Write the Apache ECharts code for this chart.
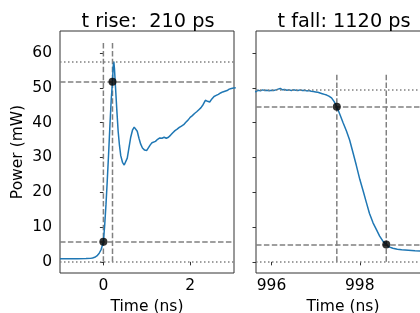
<!DOCTYPE html>
<html>
<head>
<meta charset="utf-8">
<script src="https://cdn.jsdelivr.net/npm/echarts@6/dist/echarts.min.js"></script>
<style>html,body{margin:0;padding:0;background:#fff;}#c{width:420px;height:313px;}</style>
</head>
<body>
<div id="c"></div>
<script>
// ---- data ----
const riseTime = [-1.0,-0.8,-0.6,-0.4,-0.3,-0.25,-0.2,-0.15,-0.1,-0.05,0.0,0.03,0.06,0.09,0.12,0.15,0.18,0.21,0.225,0.24,0.255,0.28,0.31,0.34,0.37,0.40,0.44,0.48,0.51,0.55,0.59,0.63,0.67,0.71,0.74,0.78,0.82,0.86,0.9,0.95,1.0,1.04,1.08,1.12,1.16,1.2,1.25,1.3,1.35,1.4,1.45,1.5,1.55,1.6,1.65,1.7,1.75,1.8,1.85,1.9,1.95,2.0,2.05,2.1,2.15,2.2,2.25,2.3,2.35,2.4,2.45,2.5,2.55,2.6,2.65,2.7,2.75,2.8,2.85,2.9,2.95,3.0,3.05];
const risePower = [0.9,0.9,0.9,0.95,1.0,1.1,1.3,1.7,2.4,3.6,5.75,10.5,16.5,23.5,31,39,46.5,51.75,56,57.5,55.5,50,43.5,37.5,33.5,30.5,28.6,27.8,28,29.8,32.8,35.8,37.8,38.7,38.7,37.5,35.5,33.8,32.7,32.1,32.0,32.4,33.6,34.2,34.0,34.6,35.2,35.6,35.5,35.8,35.5,35.8,36.4,37.1,37.7,38.1,38.6,39.0,39.4,40.1,40.7,41.5,42.0,42.6,43.1,43.7,44.3,45.2,46.4,46.1,45.9,46.8,47.5,47.8,48.1,48.5,48.8,49.0,49.2,49.6,49.8,49.9,50.0];
const fallTime = [995.6,995.65,995.7,995.75,995.8,995.85,995.9,995.95,996.0,996.05,996.1,996.15,996.2,996.25,996.3,996.35,996.4,996.45,996.5,996.55,996.6,996.65,996.7,996.75,996.8,996.85,996.9,996.95,997.0,997.05,997.1,997.15,997.2,997.25,997.3,997.36,997.42,997.48,997.55,997.62,997.7,997.77,997.85,997.92,998.0,998.08,998.15,998.22,998.3,998.38,998.45,998.52,998.6,998.66,998.75,998.85,998.95,999.1,999.25,999.4,999.6];
const fallPower = [48.8,48.9,49.3,49.1,49.4,49.2,49.3,49.1,49.3,49.2,49.4,49.6,49.8,49.4,49.5,49.3,49.4,49.2,49.4,49.3,49.2,49.4,49.2,49.3,49.1,49.2,49.0,48.9,48.8,48.7,48.5,48.3,48.1,47.9,47.6,47.1,46.0,44.55,42.3,40.0,37.5,35.0,31.2,27.8,23.7,20.2,17.0,13.9,11.2,9.2,7.4,6.0,4.95,4.3,3.9,3.65,3.5,3.35,3.2,3.1,3.0];
const riseLevels = [0, 57.5];      // low, high (mW)
const fallLevels = [0, 49.5];
const riseCross = [0.0, 0.21];      // 10% and 90% crossing times (ns)
const fallCross = [997.48, 998.60]; // 90% and 10% crossing times (ns)
const riseXTicks = [0, 2];
const fallXTicks = [996, 998];
const yTicks = [0, 10, 20, 30, 40, 50, 60];
const titles = ['t rise:  210 ps', 't fall: 1120 ps'];

const FONT = 'DejaVu Sans';
const GRAY = '#808080';
const SPINE = '#333333';
const BLUE = '#1f77b4';
const FS = 15.5;

function zip(a, b) { return a.map((v, i) => [v, b[i]]); }

function levelMarks(lv) {
  const lo = lv[0], hi = lv[1], d = hi - lo;
  return [
    { yAxis: lo, lineStyle: { type: [1.5, 2.5], color: GRAY, width: 1.5 } },
    { yAxis: hi, lineStyle: { type: [1.5, 2.5], color: GRAY, width: 1.5 } },
    { yAxis: lo + 0.1 * d, lineStyle: { type: [5.5, 2.4], color: GRAY, width: 1.5 } },
    { yAxis: lo + 0.9 * d, lineStyle: { type: [5.5, 2.4], color: GRAY, width: 1.5 } }
  ];
}

function panelSeries(idx, t, p, lv, cross, isRise) {
  const lo = lv[0], hi = lv[1], d = hi - lo;
  const out = [];
  out.push({
    type: 'line', xAxisIndex: idx, yAxisIndex: idx, data: zip(t, p),
    showSymbol: false, symbol: 'none', lineStyle: { color: BLUE, width: 1.5 },
    clip: true, silent: true, animation: false, z: 2,
    markLine: { symbol: 'none', silent: true, animation: false, label: { show: false },
      data: levelMarks(lv) }
  });
  cross.forEach(c => {
    out.push({
      type: 'line', xAxisIndex: idx, yAxisIndex: idx,
      data: [[c, lo], [c, lo + 1.1 * d]], showSymbol: false, symbol: 'none',
      lineStyle: { color: GRAY, width: 1.5, type: [5.5, 2.4] }, silent: true, animation: false, z: 1
    });
  });
  const fr = isRise ? [0.1, 0.9] : [0.9, 0.1];
  out.push({
    type: 'scatter', xAxisIndex: idx, yAxisIndex: idx,
    data: cross.map((c, i) => [c, lo + fr[i] * d]),
    symbolSize: 8, itemStyle: { color: '#000' }, silent: true, animation: false, z: 5
  });
  return out;
}

const axisCommon = {
  axisLine: { show: false },
  axisTick: { show: true, inside: false, length: 3.5, lineStyle: { color: SPINE, width: 1 } },
  splitLine: { show: false }
};

const chart = echarts.init(document.getElementById('c'), null, { renderer: 'canvas' });
chart.setOption({
  animation: false,
  backgroundColor: '#fff',
  title: [
    { text: titles[0], left: 143, top: 7, textAlign: 'center',
      textStyle: { fontFamily: FONT, fontSize: 19.3, fontWeight: 'normal', color: '#000' } },
    { text: titles[1], left: 339, top: 7, textAlign: 'center',
      textStyle: { fontFamily: FONT, fontSize: 19.3, fontWeight: 'normal', color: '#000' } }
  ],
  grid: [
    { left: 60, top: 31, width: 174, height: 242, show: true, borderColor: SPINE, borderWidth: 1, backgroundColor: 'transparent', containLabel: false, outerBoundsMode: 'none' },
    { left: 256, top: 31, width: 174, height: 242, show: true, borderColor: SPINE, borderWidth: 1, backgroundColor: 'transparent', containLabel: false, outerBoundsMode: 'none' }
  ],
  xAxis: [
    Object.assign({}, axisCommon, {
      type: 'value', gridIndex: 0, min: -1, max: 3.01,
      name: 'Time (ns)', nameLocation: 'middle', nameGap: 25,
      nameTextStyle: { fontFamily: FONT, fontSize: FS, color: '#000' },
      axisTick: Object.assign({}, axisCommon.axisTick, { customValues: riseXTicks }),
      axisLabel: { customValues: riseXTicks, margin: 5, fontFamily: FONT, fontSize: FS, color: '#000' }
    }),
    Object.assign({}, axisCommon, {
      type: 'value', gridIndex: 1, min: 995.65, max: 999.59,
      name: 'Time (ns)', nameLocation: 'middle', nameGap: 25,
      nameTextStyle: { fontFamily: FONT, fontSize: FS, color: '#000' },
      axisTick: Object.assign({}, axisCommon.axisTick, { customValues: fallXTicks }),
      axisLabel: { customValues: fallXTicks, margin: 5, fontFamily: FONT, fontSize: FS, color: '#000' }
    })
  ],
  yAxis: [
    Object.assign({}, axisCommon, {
      type: 'value', gridIndex: 0, min: -3.2, max: 66.3,
      name: 'Power (mW)', nameLocation: 'middle', nameGap: 34, nameRotate: 90,
      nameTextStyle: { fontFamily: FONT, fontSize: FS, color: '#000' },
      axisTick: Object.assign({}, axisCommon.axisTick, { customValues: yTicks }),
      axisLabel: { customValues: yTicks, margin: 8, fontFamily: FONT, fontSize: FS, color: '#000' }
    }),
    Object.assign({}, axisCommon, {
      type: 'value', gridIndex: 1, min: -3.2, max: 66.3,
      axisTick: Object.assign({}, axisCommon.axisTick, { customValues: yTicks }),
      axisLabel: { show: false }
    })
  ],
  series: [].concat(
    panelSeries(0, riseTime, risePower, riseLevels, riseCross, true),
    panelSeries(1, fallTime, fallPower, fallLevels, fallCross, false)
  )
});
</script>
</body>
</html>
